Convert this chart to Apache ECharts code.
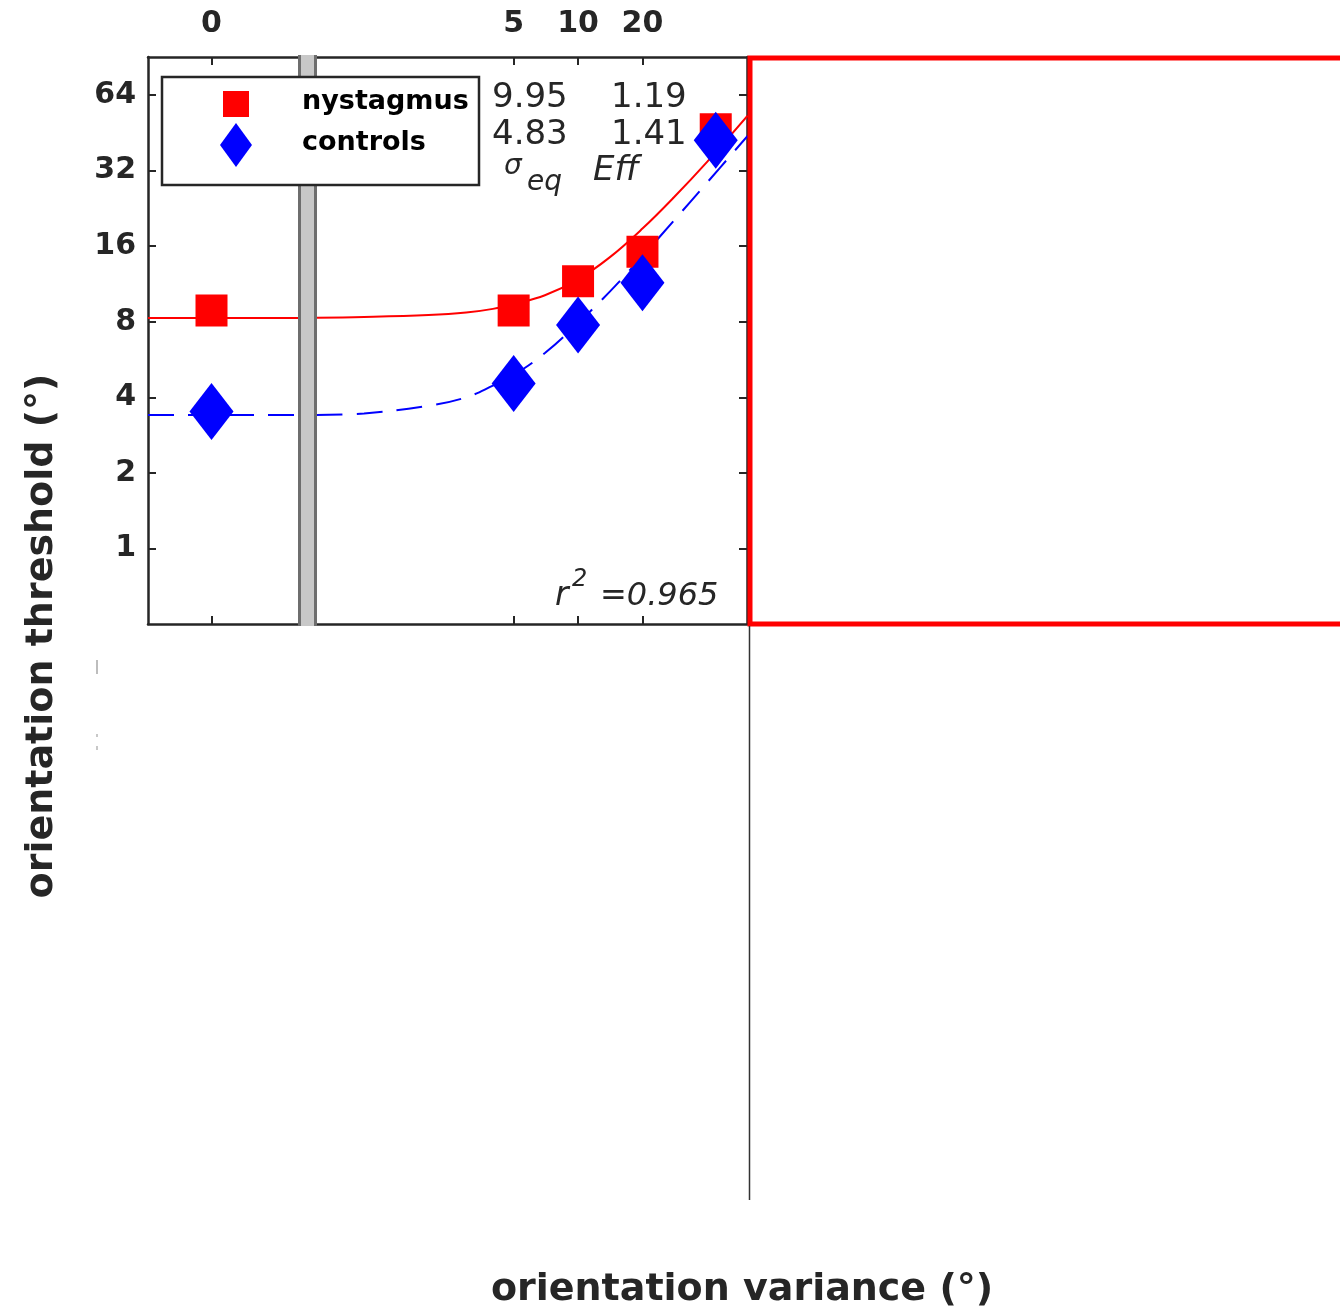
<!DOCTYPE html>
<html><head><meta charset="utf-8">
<script src="https://cdn.jsdelivr.net/npm/echarts@6/dist/echarts.min.js"></script>
<style>html,body{margin:0;padding:0;background:#fff}#c{width:1340px;height:1314px}</style>
</head><body><div id="c"></div>
<script>
// ---- data ----
const sigmaLevels = [0, 5, 10, 20, 44];
const nystagmus = [8.86, 8.86, 11.6, 15.2, 46.8];
const controls = [3.51, 4.54, 7.76, 11.43, 42.3];
const fitSigma = [0.6, 1, 2, 3, 4, 5, 7, 10, 14, 20, 28, 40, 62];
const nystagmusFit = [8.3, 8.35, 8.5, 8.7, 9.0, 9.4, 10.2, 11.8, 14.4, 18.8, 25, 34.6, 53];
const controlsFit = [3.4, 3.45, 3.7, 4.0, 4.45, 4.9, 6.0, 7.9, 10.5, 14.6, 20.2, 28.6, 44];
const nystagmusFitAtZero = 8.3;
const controlsFitAtZero = 3.4;
const xTickValues = [5, 10, 20];
const zeroTickValues = [0];
const zeroTickLabels = ['0'];
const yTickValues = [1, 2, 4, 8, 16, 32, 64];
const seriesNames = ['nystagmus', 'controls'];
const sigmaEq = ['9.95', '4.83'];
const efficiency = ['1.19', '1.41'];
const rSquared = '0.965';

// ---- presentation ----
const FONT = '"DejaVu Sans"';
const INK = '#262626';
const RED = '#ff0000';
const BLUE = '#0000ff';
const Y_MIN = 0.5, Y_MAX = 90.7;

const chart = echarts.init(document.getElementById('c'), null, {renderer: 'canvas'});

const lineAxis = {onZero: false, lineStyle: {color: INK, width: 2.5}};
const tickStyle = (vals, len) => ({show: true, inside: true, length: len, customValues: vals, lineStyle: {color: INK, width: 2}});
const tickLabel = {color: INK, fontFamily: FONT, fontWeight: 'bold', fontSize: 30};

const zeroPairs = (vals) => sigmaLevels.map((s, i) => [s, vals[i]]).filter(p => p[0] === 0);
const posPairs = (vals) => sigmaLevels.map((s, i) => [s, vals[i]]).filter(p => p[0] > 0);
const fitPairs = (vals) => fitSigma.map((s, i) => [s, vals[i]]);

const redMarker = {symbol: 'rect', symbolSize: 32, itemStyle: {color: RED, opacity: 1}, emphasis: {disabled: true}};
const blueMarker = {symbol: 'diamond', symbolSize: [44, 57], itemStyle: {color: BLUE, opacity: 1}, emphasis: {disabled: true}};

const option = {
  animation: false,
  backgroundColor: '#ffffff',
  grid: [
    {left: 148, top: 57, width: 150, height: 567},
    {left: 316, top: 57, width: 431, height: 567}
  ],
  xAxis: [
    {gridIndex: 0, type: 'value', position: 'bottom', min: -1, max: 1.362,
      axisLine: lineAxis, axisTick: tickStyle(zeroTickValues, 8), axisLabel: {show: false}, splitLine: {show: false}},
    {gridIndex: 0, type: 'value', position: 'top', min: -1, max: 1.362,
      axisLine: lineAxis, axisTick: tickStyle(zeroTickValues, 8),
      axisLabel: Object.assign({customValues: zeroTickValues, margin: 18,
        formatter: (v) => zeroTickLabels[zeroTickValues.indexOf(Math.round(v))]}, tickLabel),
      splitLine: {show: false}},
    {gridIndex: 1, type: 'log', logBase: 2, position: 'bottom', min: 0.596, max: 61.6,
      axisLine: lineAxis, axisTick: tickStyle(xTickValues, 8), axisLabel: {show: false},
      splitLine: {show: false}, minorTick: {show: false}},
    {gridIndex: 1, type: 'log', logBase: 2, position: 'top', min: 0.596, max: 61.6,
      axisLine: lineAxis, axisTick: tickStyle(xTickValues, 8),
      axisLabel: Object.assign({customValues: xTickValues, margin: 18,
        formatter: (v) => String(Math.round(v))}, tickLabel),
      splitLine: {show: false}, minorTick: {show: false}}
  ],
  yAxis: [
    {gridIndex: 0, type: 'log', logBase: 2, position: 'left', min: Y_MIN, max: Y_MAX,
      axisLine: lineAxis, axisTick: tickStyle(yTickValues, 8),
      axisLabel: Object.assign({customValues: yTickValues, margin: 12,
        formatter: (v) => String(Math.round(v))}, tickLabel),
      splitLine: {show: false}},
    {gridIndex: 1, type: 'log', logBase: 2, position: 'right', min: Y_MIN, max: Y_MAX,
      axisLine: lineAxis, axisTick: tickStyle(yTickValues, 8), axisLabel: {show: false},
      splitLine: {show: false}}
  ],
  series: [
    {name: seriesNames[0] + ' fit', type: 'line', xAxisIndex: 0, yAxisIndex: 0,
      data: [[0, nystagmusFitAtZero]], symbol: 'none', lineStyle: {color: RED, width: 2}, z: 2,
      markLine: {silent: true, symbol: 'none', label: {show: false},
        lineStyle: {color: RED, width: 2, type: 'solid'}, data: [{yAxis: nystagmusFitAtZero}]}},
    {name: seriesNames[1] + ' fit', type: 'line', xAxisIndex: 0, yAxisIndex: 0,
      data: [[0, controlsFitAtZero]], symbol: 'none', lineStyle: {color: BLUE, width: 2}, z: 2,
      markLine: {silent: true, symbol: 'none', label: {show: false},
        lineStyle: {color: BLUE, width: 2, type: [26, 14]}, data: [{yAxis: controlsFitAtZero}]}},
    {name: seriesNames[0] + ' fit', type: 'line', xAxisIndex: 2, yAxisIndex: 1,
      data: fitPairs(nystagmusFit), symbol: 'none', smooth: 0.4,
      lineStyle: {color: RED, width: 2}, z: 2},
    {name: seriesNames[1] + ' fit', type: 'line', xAxisIndex: 2, yAxisIndex: 1,
      data: fitPairs(controlsFit), symbol: 'none', smooth: 0.4,
      lineStyle: {color: BLUE, width: 2, type: [26, 14]}, z: 2},
    Object.assign({name: seriesNames[0], type: 'scatter', xAxisIndex: 0, yAxisIndex: 0,
      data: zeroPairs(nystagmus), z: 3}, redMarker),
    Object.assign({name: seriesNames[0], type: 'scatter', xAxisIndex: 2, yAxisIndex: 1,
      data: posPairs(nystagmus), z: 3}, redMarker),
    Object.assign({name: seriesNames[1], type: 'scatter', xAxisIndex: 0, yAxisIndex: 0,
      data: zeroPairs(controls), z: 4}, blueMarker),
    Object.assign({name: seriesNames[1], type: 'scatter', xAxisIndex: 2, yAxisIndex: 1,
      data: posPairs(controls), z: 4}, blueMarker)
  ],
  graphic: [
    // axis break bar
    {type: 'rect', z: 100, shape: {x: 298, y: 55, width: 19, height: 571}, style: {fill: '#c8c8c8'}},
    {type: 'rect', z: 100, shape: {x: 298, y: 55, width: 3, height: 571}, style: {fill: '#6e6e6e'}},
    {type: 'rect', z: 100, shape: {x: 314, y: 55, width: 3, height: 571}, style: {fill: '#6e6e6e'}},
    // red highlight rectangle (empty panel)
    {type: 'rect', z: 100, shape: {x: 750, y: 58, width: 700, height: 566},
      style: {fill: 'none', stroke: RED, lineWidth: 5}},
    // thin vertical line below
    {type: 'line', z: 100, shape: {x1: 749.5, y1: 626, x2: 749.5, y2: 1200},
      style: {stroke: '#333333', lineWidth: 1.5}},
    // legend
    {type: 'rect', z: 100, shape: {x: 162, y: 77, width: 317, height: 108},
      style: {fill: '#ffffff', stroke: INK, lineWidth: 2.5}},
    {type: 'rect', z: 101, shape: {x: 223, y: 91, width: 26, height: 26}, style: {fill: RED}},
    {type: 'polygon', z: 101, shape: {points: [[236, 123], [252, 145], [236, 167], [220, 145]]}, style: {fill: BLUE}},
    {type: 'text', z: 101, x: 302, y: 102, style: {text: seriesNames[0], font: 'bold 27px ' + FONT, fill: '#000',
      align: 'left', verticalAlign: 'middle', textAlign: 'left', textVerticalAlign: 'middle'}},
    {type: 'text', z: 101, x: 302, y: 143, style: {text: seriesNames[1], font: 'bold 27px ' + FONT, fill: '#000',
      align: 'left', verticalAlign: 'middle', textAlign: 'left', textVerticalAlign: 'middle'}},
    // parameter table
    {type: 'text', z: 101, x: 492, y: 98, style: {text: sigmaEq[0], font: '34px ' + FONT, fill: INK,
      align: 'left', verticalAlign: 'middle', textAlign: 'left', textVerticalAlign: 'middle'}},
    {type: 'text', z: 101, x: 492, y: 135, style: {text: sigmaEq[1], font: '34px ' + FONT, fill: INK,
      align: 'left', verticalAlign: 'middle', textAlign: 'left', textVerticalAlign: 'middle'}},
    {type: 'text', z: 101, x: 611, y: 98, style: {text: efficiency[0], font: '34px ' + FONT, fill: INK,
      align: 'left', verticalAlign: 'middle', textAlign: 'left', textVerticalAlign: 'middle'}},
    {type: 'text', z: 101, x: 611, y: 135, style: {text: efficiency[1], font: '34px ' + FONT, fill: INK,
      align: 'left', verticalAlign: 'middle', textAlign: 'left', textVerticalAlign: 'middle'}},
    {type: 'text', z: 101, x: 504, y: 167, style: {text: 'σ', font: 'italic 28px ' + FONT, fill: INK,
      align: 'left', verticalAlign: 'middle', textAlign: 'left', textVerticalAlign: 'middle'}},
    {type: 'text', z: 101, x: 527, y: 183, style: {text: 'eq', font: 'italic 28px ' + FONT, fill: INK,
      align: 'left', verticalAlign: 'middle', textAlign: 'left', textVerticalAlign: 'middle'}},
    {type: 'text', z: 101, x: 593, y: 171, style: {text: 'Eff', font: 'italic 34px ' + FONT, fill: INK,
      align: 'left', verticalAlign: 'middle', textAlign: 'left', textVerticalAlign: 'middle'}},
    // r^2
    {type: 'text', z: 101, x: 555, y: 596, style: {text: 'r', font: 'italic 33px ' + FONT, fill: INK,
      align: 'left', verticalAlign: 'middle', textAlign: 'left', textVerticalAlign: 'middle'}},
    {type: 'text', z: 101, x: 572, y: 580, style: {text: '2', font: 'italic 24px ' + FONT, fill: INK,
      align: 'left', verticalAlign: 'middle', textAlign: 'left', textVerticalAlign: 'middle'}},
    {type: 'text', z: 101, x: 600, y: 597, style: {text: '=' + rSquared, font: 'italic 32px ' + FONT, fill: INK,
      align: 'left', verticalAlign: 'middle', textAlign: 'left', textVerticalAlign: 'middle'}},
    // axis titles
    {type: 'text', z: 101, x: 742, y: 1290, style: {text: 'orientation variance (°)', font: 'bold 38px ' + FONT, fill: INK,
      align: 'center', verticalAlign: 'middle', textAlign: 'center', textVerticalAlign: 'middle'}},
    {type: 'text', z: 101, x: 42, y: 636, rotation: Math.PI / 2, style: {text: 'orientation threshold (°)', font: 'bold 38px ' + FONT, fill: INK,
      align: 'center', verticalAlign: 'middle', textAlign: 'center', textVerticalAlign: 'middle'}},
    // faint residual marks at left
    {type: 'rect', z: 100, shape: {x: 96, y: 660, width: 2, height: 14}, style: {fill: '#bdbdbd'}},
    {type: 'rect', z: 100, shape: {x: 96, y: 734, width: 2, height: 3}, style: {fill: '#c8c8c8'}},
    {type: 'rect', z: 100, shape: {x: 96, y: 746, width: 2, height: 4}, style: {fill: '#c8c8c8'}}
  ]
};
chart.setOption(option);
</script>
</body></html>
